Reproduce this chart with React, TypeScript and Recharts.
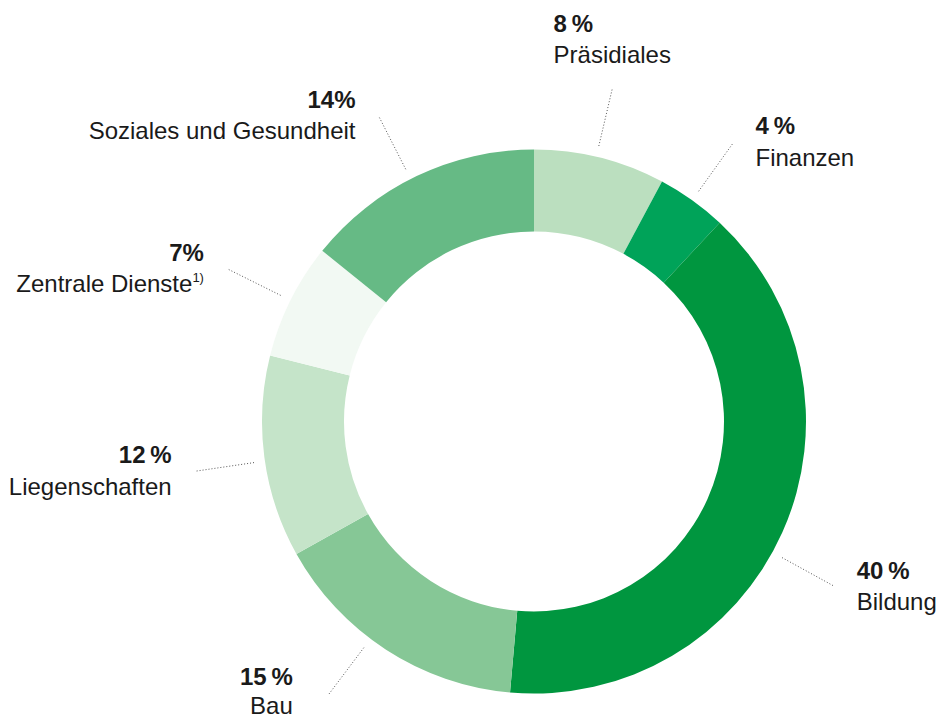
import React from "react";
import { PieChart, Pie, Cell } from "recharts";

// Categories in clockwise order starting at 12 o'clock
const CATEGORIES = [
  "Präsidiales",
  "Finanzen",
  "Bildung",
  "Bau",
  "Liegenschaften",
  "Zentrale Dienste",
  "Soziales und Gesundheit",
];

// Shares in percent (read from slice boundaries)
const SHARES = [7.8, 4.16, 39.45, 15.5, 12.0, 6.9, 14.2];

// Printed percentage labels
const PCT_LABELS = ["8\u2009%", "4\u2009%", "40\u2009%", "15\u2009%", "12\u2009%", "7%", "14%"];

// Footnote markers
const FOOTNOTES = ["", "", "", "", "", "1)", ""];

const COLORS = ["#bbdfbf", "#00a359", "#00963f", "#86c796", "#c5e4c9", "#f2f9f3", "#66ba85"];

// small angular nudges (degrees clockwise) for leader lines
const LINE_NUDGE: Record<number, number> = { 0: -0.8, 2: 4.7, 3: 4.0, 4: -0.8, 6: -1.4 };

const data = CATEGORIES.map((name, i) => ({
  name,
  value: SHARES[i],
  pct: PCT_LABELS[i],
  note: FOOTNOTES[i],
}));

const FONT = "'Liberation Sans', Arial, Helvetica, sans-serif";
const TEXT = "#1a1a1a";
const LINE_GAP = 31.5;

const renderLabel = (props: any) => {
  const { cx, cy, midAngle, outerRadius, index } = props;
  let cw = 90 - midAngle + (LINE_NUDGE[index] ?? 0);
  cw = ((cw % 360) + 360) % 360;
  const rad = (cw * Math.PI) / 180;
  const pt = (r: number) => ({ x: cx + r * Math.sin(rad), y: cy - r * Math.cos(rad) });
  const a = pt(outerRadius + 11);
  const b = pt(outerRadius + 71);
  let anchor: "start" | "end" = "start";
  let tx = 0;
  let ty = 0;
  let gap = LINE_GAP;
  if (cw < 20 || cw > 340) {
    anchor = "start";
    tx = b.x - 59;
    ty = b.y - 56;
  } else if (cw < 180) {
    anchor = "start";
    tx = b.x + 22;
    ty = b.y - 8;
  } else if (cw < 240) {
    anchor = "end";
    tx = b.x - 35;
    ty = b.y - 11;
    gap = 29.5;
  } else {
    anchor = "end";
    tx = b.x - 23;
    ty = b.y - 8;
  }
  const d = data[index];
  return (
    <g key={`lbl-${index}`}>
      <line
        x1={a.x}
        y1={a.y}
        x2={b.x}
        y2={b.y}
        stroke="#555"
        strokeWidth={1}
        strokeDasharray="1 2"
      />
      <text
        x={tx}
        y={ty}
        textAnchor={anchor}
        fontFamily={FONT}
        fontSize={24}
        fontWeight="bold"
        fill={TEXT}
      >
        {d.pct}
      </text>
      <text x={tx} y={ty + gap} textAnchor={anchor} fontFamily={FONT} fontSize={24} fill={TEXT}>
        {d.name}
        {d.note ? (
          <tspan fontSize={13} dy={-10}>
            {d.note}
          </tspan>
        ) : null}
      </text>
    </g>
  );
};

export default function App() {
  return (
    <div style={{ position: "absolute", left: 0, top: 0, width: 941, height: 720, background: "#fff" }}>
      <PieChart width={941} height={720} margin={{ top: 0, right: 0, bottom: 0, left: 0 }}>
        <Pie
          data={data}
          dataKey="value"
          nameKey="name"
          cx={534}
          cy={421.5}
          innerRadius={190}
          outerRadius={272}
          startAngle={90}
          endAngle={-270}
          stroke="none"
          paddingAngle={0}
          isAnimationActive={false}
          label={renderLabel}
          labelLine={false}
        >
          {data.map((d, i) => (
            <Cell key={d.name} fill={COLORS[i]} stroke="none" />
          ))}
        </Pie>
      </PieChart>
    </div>
  );
}
